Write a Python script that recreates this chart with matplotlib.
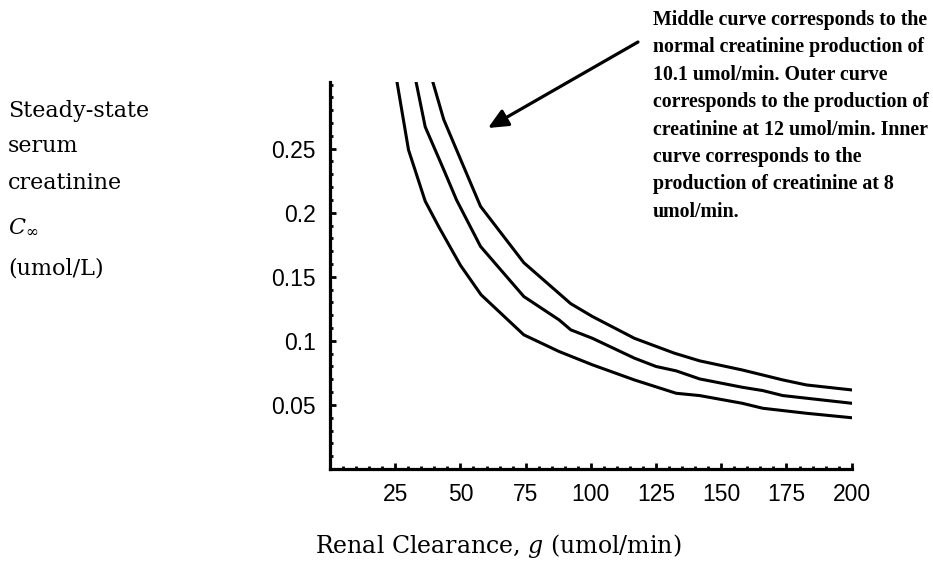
import matplotlib
matplotlib.use("Agg")
import matplotlib.pyplot as plt
from matplotlib.ticker import MultipleLocator, FixedLocator, FixedFormatter

# ---- data (renal clearance g vs steady-state creatinine) ----
g_inner = [25.6, 30.1, 36.5, 41.7, 50.0, 57.9, 74.3, 87.8, 100.6, 116.7, 132.7, 141.7, 158.0, 165.9, 182.6, 200.0]
c_inner = [0.303, 0.249, 0.209, 0.189, 0.159, 0.136, 0.1047, 0.0917, 0.0813, 0.0695, 0.0591, 0.0573, 0.0513, 0.0474, 0.0435, 0.0400]

g_middle = [32.7, 36.5, 43.6, 48.5, 57.7, 74.3, 87.8, 92.3, 100.6, 116.7, 125.0, 132.7, 141.7, 158.0, 165.9, 173.6, 200.0]
c_middle = [0.305, 0.267, 0.2336, 0.2100, 0.1737, 0.1346, 0.1164, 0.1086, 0.1020, 0.0865, 0.0800, 0.0766, 0.0703, 0.0638, 0.0612, 0.0573, 0.0513]

g_outer = [39.0, 43.6, 50.6, 57.7, 74.3, 92.3, 100.6, 116.7, 132.0, 141.7, 158.0, 173.6, 182.6, 200.0]
c_outer = [0.305, 0.2727, 0.2390, 0.2050, 0.1610, 0.1290, 0.1190, 0.1020, 0.0904, 0.0844, 0.0773, 0.0695, 0.0656, 0.0617]

x_ticks = [25, 50, 75, 100, 125, 150, 175, 200]
x_tick_labels = ["25", "50", "75", "100", "125", "150", "175", "200"]
y_ticks = [0.05, 0.1, 0.15, 0.2, 0.25]
y_tick_labels = ["0.05", "0.1", "0.15", "0.2", "0.25"]

note_lines = [
    "Middle curve corresponds to the",
    "normal creatinine production of",
    "10.1 umol/min. Outer curve",
    "corresponds to the production of",
    "creatinine at 12 umol/min. Inner",
    "curve corresponds to the",
    "production of creatinine at 8",
    "umol/min.",
]
ylabel_lines = ["Steady-state", "serum", "creatinine", r"$C_{\infty}$", "(umol/L)"]
xlabel = r"Renal Clearance, $g$ (umol/min)"

plt.rcParams["mathtext.fontset"] = "dejavuserif"
W, H = 933, 576
fig = plt.figure(figsize=(W / 100, H / 100), dpi=100)
ax = fig.add_axes([330 / W, 1 - 469 / H, (851.7 - 330) / W, (469 - 82) / H])

for gx, cy in [(g_inner, c_inner), (g_middle, c_middle), (g_outer, c_outer)]:
    ax.plot(gx, cy, color="black", lw=2.2, solid_joinstyle="round")

ax.set_xlim(0, 200)
ax.set_ylim(0, 0.302)
for s in ["top", "right"]:
    ax.spines[s].set_visible(False)
for s in ["left", "bottom"]:
    ax.spines[s].set_linewidth(2.3)

tick_font = ["Liberation Sans", "DejaVu Sans"]
ax.xaxis.set_major_locator(FixedLocator(x_ticks))
ax.xaxis.set_major_formatter(FixedFormatter(x_tick_labels))
ax.yaxis.set_major_locator(FixedLocator(y_ticks))
ax.yaxis.set_major_formatter(FixedFormatter(y_tick_labels))
ax.xaxis.set_minor_locator(MultipleLocator(5))
ax.yaxis.set_minor_locator(MultipleLocator(0.01))
ax.tick_params(which="major", direction="in", length=4, width=2, pad=10, labelsize=16.5)
ax.tick_params(which="minor", direction="in", length=2.5, width=2)
for lab in ax.get_xticklabels() + ax.get_yticklabels():
    lab.set_fontfamily(tick_font)

# y label lines
ylab_y = [111, 146, 183, 226, 269]
for txt, yy in zip(ylabel_lines, ylab_y):
    fig.text(8 / W, 1 - yy / H, txt, family="DejaVu Serif", fontsize=16,
             ha="left", va="center")

fig.text(498 / W, 1 - 546 / H, xlabel, family="DejaVu Serif", fontsize=17,
         ha="center", va="center")

note_y0 = 20
for i, line in enumerate(note_lines):
    fig.text(653 / W, 1 - (note_y0 + i * 27.4) / H, line, family="Liberation Serif",
             fontweight="bold", fontsize=14.3, ha="left", va="center")

ax.annotate("", xy=(488 / W, 1 - 128 / H), xycoords="figure fraction",
            xytext=(638 / W, 1 - 42 / H), textcoords="figure fraction",
            arrowprops=dict(arrowstyle="-|>,head_length=1.2,head_width=0.55",
                            color="black", lw=2.3, shrinkA=0, shrinkB=0))

fig.savefig("out.png", dpi=100)
